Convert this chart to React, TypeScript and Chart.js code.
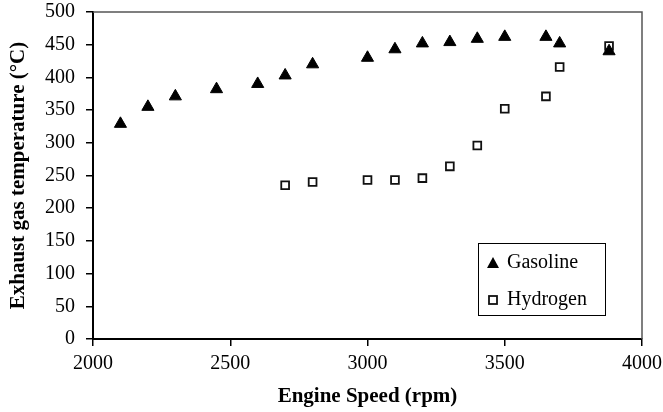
import { useEffect, useRef } from "react";
import { Chart, registerables } from "chart.js";

Chart.register(...registerables);

// Engine speed (rpm) and exhaust gas temperature (°C) per fuel
const gasolineSpeed = [2100, 2200, 2300, 2450, 2600, 2700, 2800, 3000, 3100, 3200, 3300, 3400, 3500, 3650, 3700, 3880];
const gasolineTemp = [329, 355, 371, 382, 390, 403, 420, 430, 443, 452, 454, 459, 462, 462, 452, 440];
const hydrogenSpeed = [2700, 2800, 3000, 3100, 3200, 3300, 3400, 3500, 3650, 3700, 3880];
const hydrogenTemp = [235, 240, 243, 243, 246, 264, 296, 352, 371, 416, 448];

const seriesNames = ["Gasoline", "Hydrogen"];
const xTitle = "Engine Speed (rpm)";
const yTitle = "Exhaust gas temperature (°C)";
const xRange = [2000, 4000, 500];
const yRange = [0, 500, 50];

const FONT = "'Liberation Serif', 'Times New Roman', serif";

function toPoints(xs: number[], ys: number[]) {
  return xs.map((x, i) => ({ x, y: ys[i] }));
}

// Plain integer tick labels (no thousands separator)
const plainLabel = (v: number | string) => String(v);

// Thin grey top/right frame lines of the plot area
const framePlugin = {
  id: "frame",
  afterDraw(chart: any) {
    const { ctx, chartArea: a } = chart;
    ctx.save();
    ctx.strokeStyle = "#555";
    ctx.lineWidth = 1.5;
    ctx.beginPath();
    ctx.moveTo(a.left, a.top);
    ctx.lineTo(a.right, a.top);
    ctx.lineTo(a.right, a.bottom);
    ctx.stroke();
    ctx.restore();
  },
};

// Boxed legend inside the lower right of the plot area
const boxLegendPlugin = {
  id: "boxLegend",
  afterDatasetsDraw(chart: any) {
    const { ctx, chartArea: a } = chart;
    const left = a.right - 164;
    const top = a.bottom - 96;
    const w = 127;
    const h = 72;
    ctx.save();
    ctx.fillStyle = "#fff";
    ctx.fillRect(left, top, w, h);
    ctx.strokeStyle = "#000";
    ctx.lineWidth = 1;
    ctx.strokeRect(left + 0.5, top + 0.5, w, h);

    const rows = [top + 20, top + 57];
    const mx = left + 15;
    // triangle marker
    ctx.fillStyle = "#000";
    ctx.beginPath();
    ctx.moveTo(mx, rows[0] - 6);
    ctx.lineTo(mx + 6, rows[0] + 5);
    ctx.lineTo(mx - 6, rows[0] + 5);
    ctx.closePath();
    ctx.fill();
    // square marker
    ctx.strokeStyle = "#111";
    ctx.lineWidth = 1.8;
    ctx.fillStyle = "#fff";
    ctx.fillRect(mx - 4, rows[1] - 4, 8, 8);
    ctx.strokeRect(mx - 4, rows[1] - 4, 8, 8);

    ctx.fillStyle = "#000";
    ctx.font = `20px ${FONT}`;
    ctx.textBaseline = "middle";
    ctx.textAlign = "left";
    ctx.fillText(chart.data.datasets[0].label, left + 29, rows[0]);
    ctx.fillText(chart.data.datasets[1].label, left + 29, rows[1]);
    ctx.restore();
  },
};

export default function App() {
  const canvasRef = useRef<HTMLCanvasElement | null>(null);

  useEffect(() => {
    const canvas = canvasRef.current;
    if (!canvas) return;
    const chart = new Chart(canvas, {
      type: "scatter",
      data: {
        datasets: [
          {
            label: seriesNames[0],
            data: toPoints(gasolineSpeed, gasolineTemp),
            pointStyle: "triangle",
            pointRadius: 7,
            backgroundColor: "#000",
            borderColor: "#000",
            borderWidth: 1,
          },
          {
            label: seriesNames[1],
            data: toPoints(hydrogenSpeed, hydrogenTemp),
            pointStyle: "rect",
            pointRadius: 5.5,
            backgroundColor: "#fff",
            borderColor: "#111",
            borderWidth: 1.8,
          },
        ],
      },
      options: {
        responsive: false,
        animation: false,
        layout: { padding: { top: 12, right: 21, left: 0, bottom: 0 } },
        plugins: {
          legend: { display: false },
          tooltip: { enabled: false },
        },
        scales: {
          x: {
            type: "linear",
            min: xRange[0],
            max: xRange[1],
            ticks: {
              stepSize: xRange[2],
              padding: 6,
              color: "#000",
              font: { family: FONT, size: 20 },
              callback: plainLabel,
            },
            grid: {
              display: true,
              drawOnChartArea: false,
              drawTicks: true,
              tickLength: 7,
              color: "#000",
              lineWidth: 1.5,
            },
            border: { display: true, color: "#000", width: 2 },
            title: {
              display: true,
              text: xTitle,
              color: "#000",
              font: { family: FONT, size: 21, weight: "bold" },
              padding: { top: 0, bottom: 3 },
            },
            afterFit: (s: any) => {
              s.height = 73;
              s.paddingLeft = 0;
              s.paddingRight = 0;
            },
          },
          y: {
            type: "linear",
            min: yRange[0],
            max: yRange[1],
            ticks: {
              stepSize: yRange[2],
              padding: 11,
              color: "#000",
              font: { family: FONT, size: 20 },
              callback: plainLabel,
            },
            grid: {
              display: true,
              drawOnChartArea: false,
              drawTicks: true,
              tickLength: 7,
              color: "#000",
              lineWidth: 1.5,
            },
            border: { display: true, color: "#000", width: 2 },
            title: {
              display: true,
              text: yTitle,
              color: "#000",
              font: { family: FONT, size: 21, weight: "bold" },
              padding: { top: 6, bottom: 0 },
            },
            afterFit: (s: any) => {
              s.width = 93;
              s.paddingTop = 0;
              s.paddingBottom = 0;
            },
          },
        },
      },
      plugins: [framePlugin, boxLegendPlugin],
    });
    return () => chart.destroy();
  }, []);

  return (
    <div style={{ position: "absolute", left: 0, top: 0, width: 663, height: 412, background: "#fff" }}>
      <canvas ref={canvasRef} width={663} height={412} />
    </div>
  );
}
